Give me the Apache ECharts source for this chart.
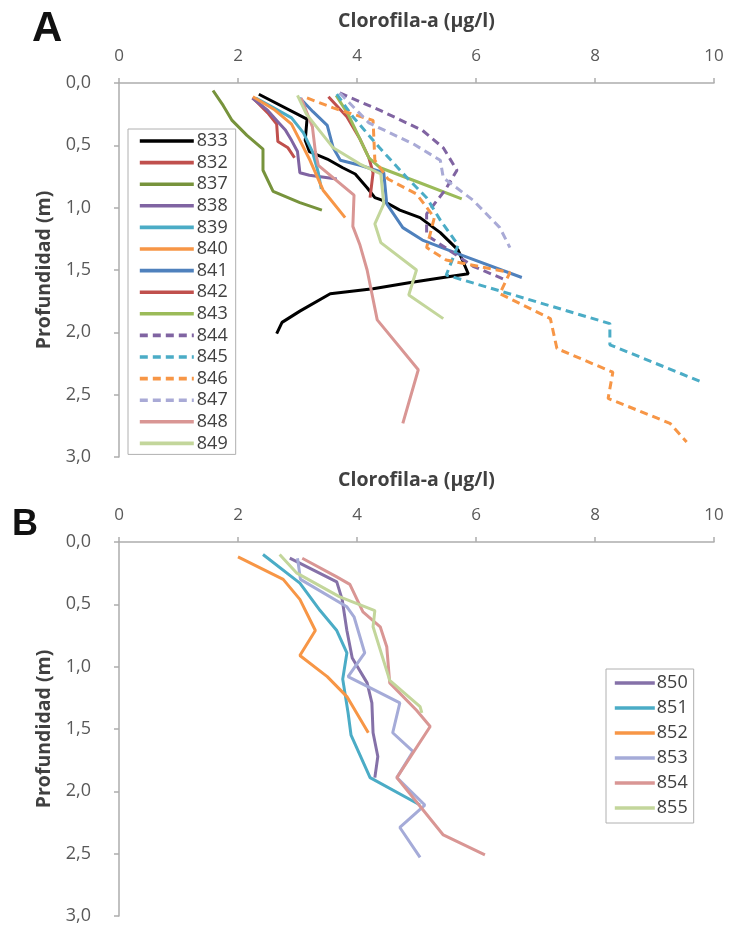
<!DOCTYPE html>
<html>
<head>
<meta charset="utf-8">
<script src="https://cdn.jsdelivr.net/npm/echarts@6/dist/echarts.min.js"></script>
<style>
html,body{margin:0;padding:0;background:#fff;}
#c{width:730px;height:927px;}
</style>
</head>
<body>
<div id="c"></div>
<script>
// ---- data: [clorofila-a (µg/l), profundidad (m)] ----
const xTicks = [0, 2, 4, 6, 8, 10];
const yTicks = [0, 0.5, 1, 1.5, 2, 2.5, 3];

const namesA = ['833','832','837','838','839','840','841','842','843','844','845','846','847','848','849'];
const namesB = ['850','851','852','853','854','855'];

const s833 = [[2.35,0.09],[3.16,0.29],[3.13,0.46],[3.2,0.55],[3.5,0.61],[3.76,0.68],[3.97,0.73],[4.17,0.84],[4.3,0.92],[4.42,0.94],[4.72,1.02],[5.06,1.08],[5.4,1.2],[5.7,1.34],[5.87,1.53],[5.45,1.56],[4.9,1.6],[4.27,1.65],[3.55,1.69],[3.04,1.83],[2.74,1.92],[2.65,2.01]];
const s832 = [[2.25,0.12],[2.5,0.24],[2.65,0.33],[2.67,0.47],[2.84,0.52],[2.95,0.6]];
const s837 = [[1.58,0.06],[1.75,0.18],[1.9,0.3],[2.15,0.42],[2.42,0.53],[2.42,0.7],[2.59,0.87],[3.04,0.96],[3.41,1.02]];
const s838 = [[2.24,0.12],[2.5,0.22],[2.65,0.3],[2.8,0.38],[2.9,0.46],[3.0,0.55],[3.04,0.72],[3.2,0.74],[3.66,0.77]];
const s839 = [[2.3,0.12],[2.6,0.2],[2.9,0.28],[3.1,0.4],[3.25,0.55],[3.35,0.72],[3.4,0.85]];
const s840 = [[2.25,0.11],[2.6,0.21],[2.9,0.33],[3.04,0.46],[3.21,0.62],[3.43,0.86],[3.8,1.08]];
const s841 = [[3.04,0.12],[3.26,0.23],[3.5,0.34],[3.6,0.52],[3.72,0.62],[4.05,0.66],[4.45,0.72],[4.5,0.97],[4.77,1.16],[5.1,1.26],[5.7,1.37],[6.77,1.56]];
const s842 = [[3.52,0.11],[3.83,0.27],[4.05,0.45],[4.2,0.6],[4.27,0.72],[4.22,0.92]];
const s843 = [[3.65,0.1],[3.85,0.25],[4.0,0.4],[4.2,0.6],[4.39,0.68],[5.0,0.79],[5.76,0.93]];
const s844 = [[3.71,0.08],[4.39,0.22],[5.1,0.38],[5.45,0.52],[5.68,0.7],[5.48,0.86],[5.17,1.05],[5.17,1.22],[5.95,1.47],[6.5,1.58]];
const s845 = [[3.66,0.09],[3.93,0.27],[4.38,0.52],[4.84,0.76],[5.17,0.92],[5.4,1.1],[5.7,1.3],[5.5,1.54],[8.25,1.93],[8.25,2.1],[9.8,2.4]];
const s846 = [[3.16,0.12],[3.6,0.2],[4.27,0.3],[4.3,0.62],[4.52,0.77],[5.0,0.89],[5.3,1.08],[5.17,1.32],[5.5,1.42],[6.57,1.52],[6.4,1.69],[7.25,1.89],[7.36,2.13],[8.3,2.32],[8.22,2.53],[9.26,2.73],[9.54,2.88]];
const s847 = [[3.71,0.08],[4.2,0.32],[4.95,0.49],[5.4,0.62],[5.45,0.76],[5.95,0.94],[6.4,1.16],[6.57,1.32]];
const s848 = [[3.06,0.12],[3.25,0.35],[3.3,0.55],[3.35,0.66],[3.95,0.9],[3.93,1.15],[4.05,1.3],[4.17,1.5],[4.34,1.9],[5.03,2.3],[4.77,2.73]];
const s849 = [[3.0,0.1],[3.15,0.25],[3.4,0.4],[3.6,0.52],[4.05,0.65],[4.4,0.73],[4.45,0.97],[4.3,1.13],[4.4,1.28],[5.0,1.5],[4.87,1.7],[5.45,1.89]];

const s850 = [[2.87,0.13],[3.66,0.32],[3.75,0.46],[3.83,0.71],[3.92,0.93],[4.17,1.13],[4.25,1.29],[4.27,1.53],[4.35,1.72],[4.3,1.89]];
const s851 = [[2.42,0.1],[3.04,0.33],[3.38,0.55],[3.66,0.71],[3.83,0.89],[3.76,1.1],[3.85,1.37],[3.9,1.55],[4.22,1.89],[5.06,2.11]];
const s852 = [[2.0,0.12],[2.76,0.3],[3.04,0.46],[3.3,0.71],[3.04,0.91],[3.5,1.08],[3.83,1.24],[4.19,1.53]];
const s853 = [[3.0,0.13],[3.05,0.3],[3.83,0.52],[3.95,0.6],[4.13,0.89],[3.85,1.08],[4.72,1.29],[4.6,1.53],[4.94,1.68],[4.67,1.89],[5.14,2.11],[4.72,2.29],[5.06,2.53]];
const s854 = [[3.08,0.13],[3.66,0.28],[3.88,0.34],[4.1,0.56],[4.39,0.68],[4.5,0.84],[4.55,1.13],[5.0,1.35],[5.23,1.48],[4.67,1.89],[5.06,2.12],[5.45,2.35],[6.15,2.51]];
const s855 = [[2.7,0.1],[2.99,0.25],[3.71,0.44],[4.3,0.55],[4.27,0.68],[4.55,1.11],[5.06,1.32],[5.09,1.37]];

const dataA = [s833,s832,s837,s838,s839,s840,s841,s842,s843,s844,s845,s846,s847,s848,s849];
const dataB = [s850,s851,s852,s853,s854,s855];

// ---- styles ----
const colorsA = ['#000000','#C0504D','#77933C','#8064A2','#4BACC6','#F79646','#4F81BD','#C0504D','#9BBB59','#8064A2','#4BACC6','#F79646','#A9AAD6','#D99694','#C3D69B'];
const dashedA = [false,false,false,false,false,false,false,false,false,true,true,true,true,false,false];
const colorsB = ['#8571A8','#4BACC6','#F79646','#A5ABD8','#D99694','#C3D69B'];

const FONT = '"Open Sans", sans-serif';
const axisColor = '#ADADAD';
const labelColor = '#595959';

function xAxisCfg(gi) {
  return {
    gridIndex: gi, type: 'value', position: 'top', min: 0, max: 10, interval: 2,
    name: 'Clorofila-a (µg/l)', nameLocation: 'middle', nameGap: 52,
    nameTextStyle: {fontFamily: FONT, fontSize: 19.5, fontWeight: 'bold', color: '#404040'},
    axisLine: {show: true, lineStyle: {color: axisColor, width: 1.5}},
    axisTick: {show: true, inside: false, length: 5, lineStyle: {color: axisColor, width: 1.5}},
    axisLabel: {fontFamily: FONT, fontSize: 17, color: labelColor, margin: 18},
    splitLine: {show: false}
  };
}
function yAxisCfg(gi) {
  return {
    gridIndex: gi, type: 'value', inverse: true, min: 0, max: 3, interval: 0.5,
    name: 'Profundidad (m)', nameLocation: 'middle', nameGap: 54, nameRotate: 90,
    nameTextStyle: {fontFamily: FONT, fontSize: 19.5, fontWeight: 'bold', color: '#404040'},
    axisLine: {show: true, lineStyle: {color: axisColor, width: 1.5}},
    axisTick: {show: true, inside: false, length: 5, lineStyle: {color: axisColor, width: 1.5}},
    axisLabel: {fontFamily: FONT, fontSize: 18, color: labelColor, margin: 28,
      formatter: v => v.toFixed(1).replace('.', ',')},
    splitLine: {show: false}
  };
}

const series = [];
namesA.forEach((n, i) => {
  series.push({
    name: n, type: 'line', xAxisIndex: 0, yAxisIndex: 0, data: dataA[i],
    symbol: 'none', smooth: false, color: colorsA[i],
    lineStyle: {width: 3, color: colorsA[i], type: dashedA[i] ? [8, 5] : 'solid'},
    z: 2
  });
});
namesB.forEach((n, i) => {
  series.push({
    name: n, type: 'line', xAxisIndex: 1, yAxisIndex: 1, data: dataB[i],
    symbol: 'none', smooth: false, color: colorsB[i],
    lineStyle: {width: 3, color: colorsB[i]},
    z: 2
  });
});

const option = {
  animation: false,
  backgroundColor: '#ffffff',
  title: [
    {text: 'A', left: 27, top: 3, textStyle: {fontFamily: '"Liberation Sans", Arial, sans-serif', fontSize: 42, fontWeight: 'bold', color: '#111'}},
    {text: 'B', left: 7, top: 502, textStyle: {fontFamily: '"Liberation Sans", Arial, sans-serif', fontSize: 36, fontWeight: 'bold', color: '#111'}}
  ],
  grid: [
    {left: 119, top: 83, width: 595, height: 374},
    {left: 119, top: 542, width: 595, height: 374}
  ],
  xAxis: [xAxisCfg(0), xAxisCfg(1)],
  yAxis: [yAxisCfg(0), yAxisCfg(1)],
  legend: [
    {
      data: namesA, orient: 'vertical', left: 128, top: 129,
      itemWidth: 54, itemHeight: 14, itemGap: 3.6,
      padding: [3, 8, 2, 10],
      borderColor: '#B0B0B0', borderWidth: 1,
      itemStyle: {opacity: 0},
      lineStyle: {width: 3.6},
      textStyle: {fontFamily: FONT, fontSize: 18, lineHeight: 18, color: '#404040', padding: [0, 0, 0, -2]},
      selectedMode: false
    },
    {
      data: namesB, orient: 'vertical', left: 606, top: 669,
      itemWidth: 40, itemHeight: 14, itemGap: 7,
      padding: [5, 6, 6, 7],
      borderColor: '#B0B0B0', borderWidth: 1,
      itemStyle: {opacity: 0},
      lineStyle: {width: 3.6},
      textStyle: {fontFamily: FONT, fontSize: 18, lineHeight: 18, color: '#404040', padding: [0, 0, 0, -3]},
      selectedMode: false
    }
  ],
  series: series
};

const chart = echarts.init(document.getElementById('c'), null, {renderer: 'canvas'});
chart.setOption(option);
</script>
</body>
</html>
